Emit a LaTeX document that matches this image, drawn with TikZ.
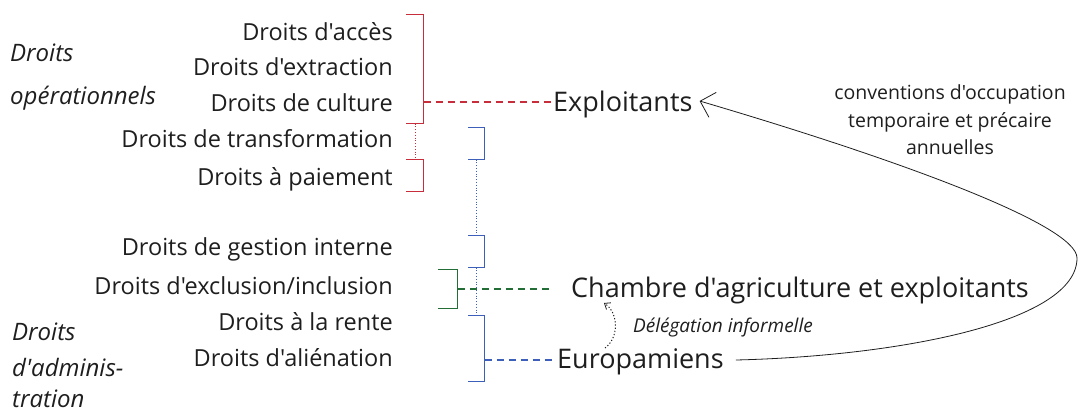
\documentclass[tikz,border=0pt]{standalone}
\usepackage{fontspec}
\setmainfont{Open Sans}[Ligatures=TeXOff]
\usetikzlibrary{arrows.meta}
\definecolor{cred}{RGB}{200,45,60}
\definecolor{cblue}{RGB}{60,95,185}
\definecolor{cgreen}{RGB}{35,110,55}
\definecolor{ctext}{RGB}{30,30,30}
\begin{document}
\begin{tikzpicture}[x=1pt,y=-1pt,
  lbl/.style={anchor=base east, inner sep=0pt, text=ctext, font=\fontsize{23.5}{26}\selectfont},
  cat/.style={anchor=base west, inner sep=0pt, text=ctext, font=\fontsize{24}{26}\selectfont\itshape},
  actor/.style={anchor=base west, inner sep=0pt, text=ctext, font=\fontsize{27}{30}\selectfont},
  note/.style={inner sep=0pt, text=ctext, font=\fontsize{19.5}{27.5}\selectfont, align=center},
  brk/.style={line width=1.3pt},
  dsh/.style={line width=1.1pt, dash pattern=on 7pt off 5pt},
  dts/.style={line width=1.1pt, dash pattern=on 1pt off 1.8pt},
]
\useasboundingbox (0,0) rectangle (1078,413);

% left labels
\node[lbl] (acc) at (393,40) {Droits d'accès};
\node[lbl] (ext) at (393,75) {Droits d'extraction};
\node[lbl] (cul) at (393,111) {Droits de culture};
\node[lbl] (tra) at (393,147) {Droits de transformation};
\node[lbl] (pai) at (393,185) {Droits à paiement};
\node[lbl] (ges) at (393,255) {Droits de gestion interne};
\node[lbl] (exc) at (393,294) {Droits d'exclusion/inclusion};
\node[lbl] (ren) at (393,330) {Droits à la rente};
\node[lbl] (ali) at (393,366) {Droits d'aliénation};

\node[cat] (op1) at (10,61) {Droits};
\node[cat] (op2) at (10,104) {opérationnels};
\node[cat] (ad1) at (12,340) {Droits};
\node[cat] (ad2) at (12,376) {d'adminis-};
\node[cat] (ad3) at (12,407) {tration};

% actors
\node[actor] (expl) at (553,111) {Exploitants};
\node[actor] (cham) at (571,297) {Chambre d'agriculture et exploitants};
\node[actor] (euro) at (557,368) {Europamiens};

\node[note] (conv) at (950,120) {conventions d'occupation\\temporaire et précaire\\annuelles};
\node[anchor=base west, inner sep=0pt, text=ctext, font=\fontsize{19}{22}\selectfont\itshape] (deleg) at (633,332) {Délégation informelle};

% red brackets
\draw[brk, cred] (406,14.5) -- (423.5,14.5) -- (423.5,123.5) -- (406,123.5);
\draw[brk, cred] (406,159.5) -- (423.5,159.5) -- (423.5,191.5) -- (406,191.5);
\draw[dts, cred] (415.5,123.5) -- (415.5,159.5);
\coordinate (rmid) at (423.5,102);
\draw[dsh, cred] (rmid) -- (expl.west |- rmid);

% blue brackets
\draw[brk, cblue] (468,127.5) -- (484.5,127.5) -- (484.5,159.5) -- (468,159.5);
\draw[brk, cblue] (468,235.5) -- (484.5,235.5) -- (484.5,267.5) -- (468,267.5);
\draw[brk, cblue] (468,315.5) -- (484.5,315.5) -- (484.5,381.5) -- (468,381.5);
\draw[dts, cblue] (476.5,159.5) -- (476.5,235.5);
\draw[dts, cblue] (476.5,267.5) -- (476.5,316);
\coordinate (bmid) at (484.5,360);
\draw[dsh, cblue] (bmid) -- ([xshift=-5pt]euro.west |- bmid);

% green bracket
\draw[brk, cgreen] (438,269.5) -- (457.5,269.5) -- (457.5,308.5) -- (438,308.5);
\coordinate (gmid) at (457.5,289);
\draw[dsh, cgreen] (gmid) -- ([xshift=-19pt]cham.west |- gmid);

% big loop arrow
\coordinate (eurend) at ([xshift=12pt]euro.east |- 0,360);
\coordinate (expend) at ([xshift=7pt]expl.east |- 0,101);
\draw[line width=0.8pt, ctext, -{Straight Barb[length=13pt,width=26pt,line width=0.8pt]}]
  (eurend) .. controls (900,356) and (1077,322) .. (1077,258)
           .. controls (1077,225) and (900,160) .. (expend);

% delegation arrow
\coordinate (dfrom) at (605,348);
\coordinate (dto) at (604,303);
\draw[line width=1pt, dash pattern=on 1.2pt off 2pt, ctext, -{Straight Barb[length=5pt,width=8pt,line width=0.8pt]}] (dfrom) to[bend right=55] (dto);
\end{tikzpicture}
\end{document}
